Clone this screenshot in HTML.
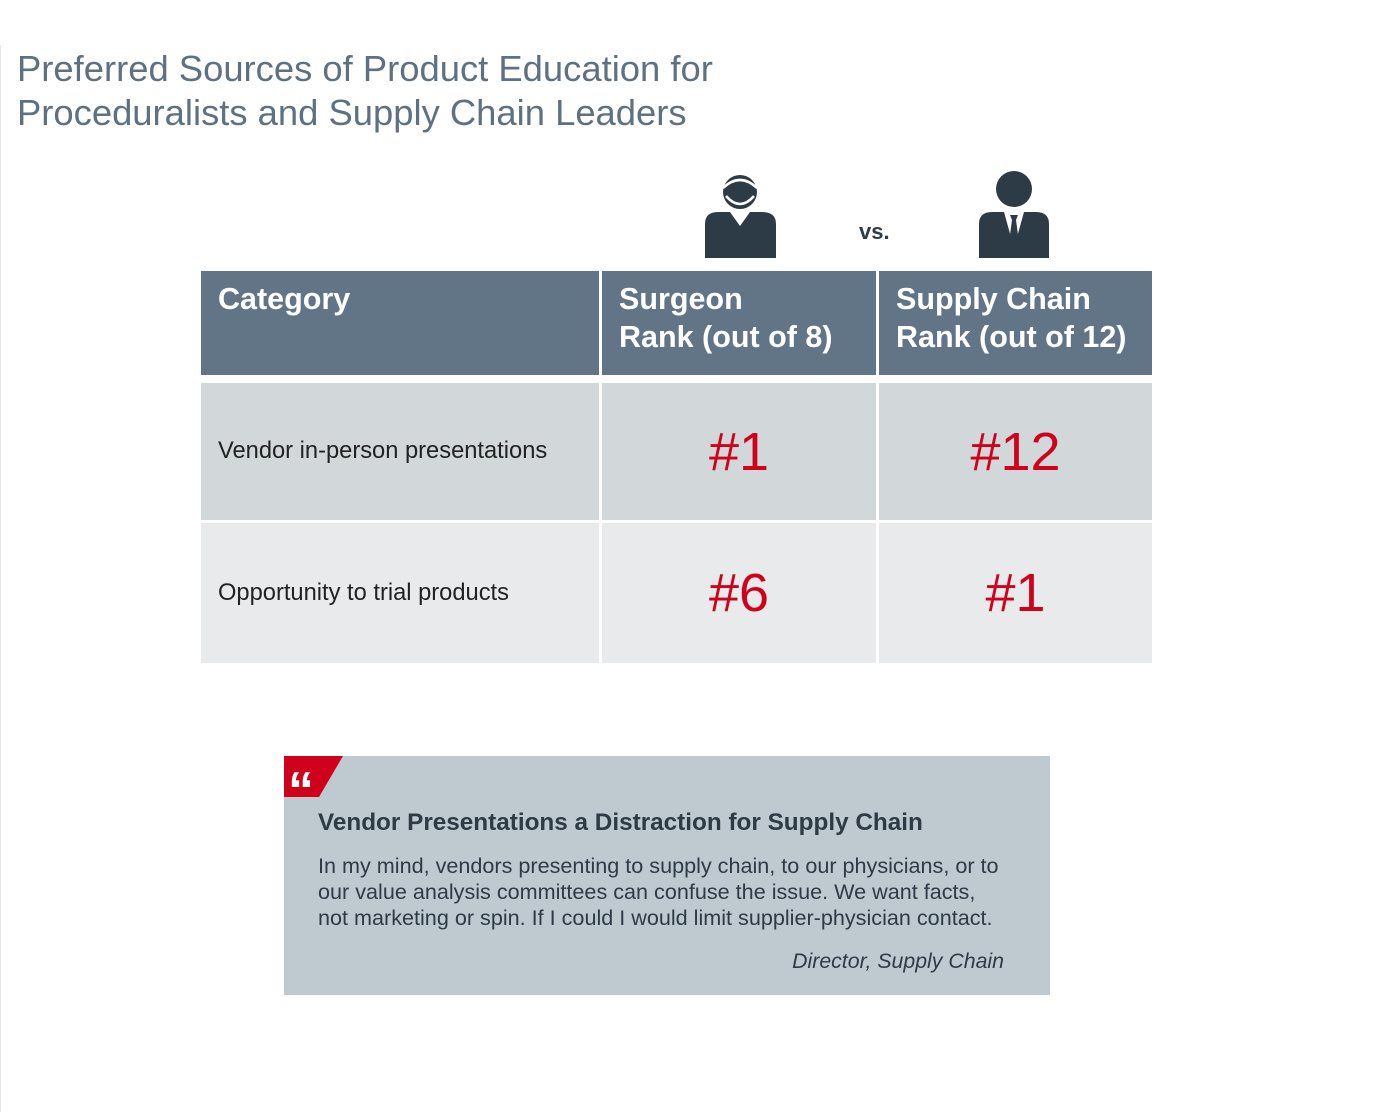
<!DOCTYPE html>
<html><head><meta charset="utf-8"><style>
body{margin:0;width:1400px;height:1112px;background:#fff;position:relative;font-family:"Liberation Sans",Arial,sans-serif;overflow:hidden}
.a{position:absolute}
.title{left:17px;top:47px;font-size:36.4px;line-height:44px;color:#5e7182}
.h{background:#627587;color:#fff;font-weight:bold;font-size:30.5px;line-height:38px;box-sizing:border-box;padding:9px 0 0 17px}
.c{font-size:23.7px;color:#222;display:flex;align-items:center;padding-left:17px;box-sizing:border-box}
.n{font-size:54px;color:#d0021b;display:flex;align-items:center;justify-content:center}
.r1{background:#d2d7da}.r2{background:#e8eaec}
</style></head><body>
<div class="a" style="left:0;top:45px;width:1px;height:1067px;background:#e4e4e4"></div>
<div class="a title">Preferred Sources of Product Education for<br>Proceduralists and Supply Chain Leaders</div>
<svg class="a" style="left:700px;top:168px" width="360" height="94">
<g fill="#2d3b47">
<path d="M5 90 V56 Q5 44 18 44 H30 L40 58 L50 44 H62 Q76 44 76 56 V90 Z"/>
<circle cx="40" cy="24" r="17"/>
</g>
<path d="M23 20 Q40 4 57 20" stroke="#fff" stroke-width="2.5" fill="none"/>
<path d="M26 28 Q40 44 54 28" stroke="#fff" stroke-width="2.5" fill="none"/>
<text x="159" y="71" font-size="22" font-weight="bold" fill="#2d3b47" font-family="Liberation Sans,sans-serif">vs.</text>
<g fill="#2d3b47">
<circle cx="314" cy="21" r="18"/>
<path d="M279 90 V56 Q279 44 292 44 H304 L314 80 L324 44 H336 Q349 44 349 56 V90 Z"/>
<path d="M310 47 H318 L316 52 L319 74 L314 80 L309 74 L312 52 Z"/>
</g>
</svg>
<div class="a h" style="left:201px;top:271px;width:398px;height:104px">Category</div>
<div class="a h" style="left:602px;top:271px;width:274px;height:104px">Surgeon<br>Rank (out of 8)</div>
<div class="a h" style="left:879px;top:271px;width:273px;height:104px">Supply Chain<br>Rank (out of 12)</div>
<div class="a c r1" style="left:201px;top:383px;width:398px;height:137px">Vendor in-person presentations</div>
<div class="a n r1" style="left:602px;top:383px;width:274px;height:137px">#1</div>
<div class="a n r1" style="left:879px;top:383px;width:273px;height:137px">#12</div>
<div class="a c r2" style="left:201px;top:523px;width:398px;height:140px">Opportunity to trial products</div>
<div class="a n r2" style="left:602px;top:523px;width:274px;height:140px">#6</div>
<div class="a n r2" style="left:879px;top:523px;width:273px;height:140px">#1</div>
<div class="a" style="left:284px;top:756px;width:766px;height:239px;background:#bfc9d0"></div>
<svg class="a" style="left:284px;top:756px" width="60" height="42"><path d="M0 0 H59 L35 41 H0Z" fill="#d0021b"/>
<text x="4" y="52" font-size="52" font-weight="bold" fill="#fff" font-family="Liberation Sans,sans-serif">“</text></svg>
<div class="a" style="left:318px;top:809px;font-size:24.3px;font-weight:bold;color:#2d3b47">Vendor Presentations a Distraction for Supply Chain</div>
<div class="a" style="left:318px;top:853px;font-size:21.6px;line-height:26px;color:#2d3b47">In my mind, vendors presenting to supply chain, to our physicians, or to<br>our value analysis committees can confuse the issue. We want facts,<br>not marketing or spin. If I could I would limit supplier-physician contact.</div>
<div class="a" style="left:600px;width:404px;text-align:right;top:949px;font-size:21.3px;font-style:italic;color:#2d3b47">Director, Supply Chain</div>
</body></html>
